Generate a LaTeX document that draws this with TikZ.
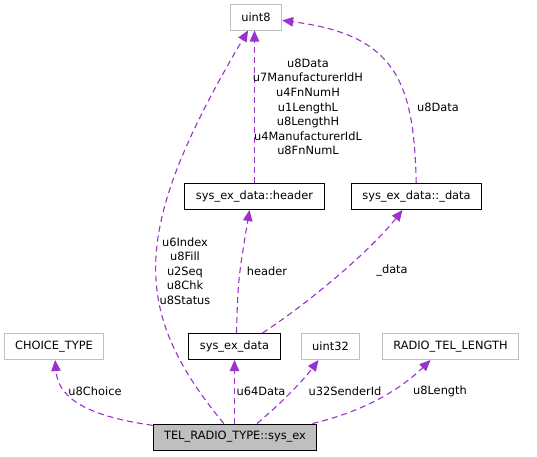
\documentclass[tikz,border=0pt]{standalone}
\usepackage{fontspec}
\setmainfont{DejaVu Sans}
\usetikzlibrary{arrows.meta}

\begin{document}
\begin{tikzpicture}[x=1pt,y=-1pt,font=\fontsize{11.4}{14.6}\selectfont,
	box/.style={draw,line width=1pt,inner xsep=11pt,inner ysep=0pt,minimum height=26pt},
	ext/.style={box,draw=extgray},
	rel/.style={draw=edgepurple,line width=1.1pt,dash pattern=on 6pt off 4pt,
		-{Triangle[length=11pt,width=9.5pt]}},
	lbl/.style={align=center,inner sep=0pt}]
	\definecolor{edgepurple}{HTML}{9A32CD}
	\definecolor{extgray}{HTML}{BFBFBF}
	\useasboundingbox (0,0) rectangle (537,456);

	\node[ext] (uint8) at (256,17) {uint8};
	\node[box] (header) at (254.5,196.5) {sys\_ex\_data::header};
	\node[box] (data) at (416.5,196.5) {sys\_ex\_data::\_data};
	\node[ext] (choice) at (54,346.5) {CHOICE\_TYPE};
	\node[box] (sysdata) at (234.5,346.5) {sys\_ex\_data};
	\node[ext] (uint32) at (330.5,346.5) {uint32};
	\node[ext] (radiolen) at (450.5,346.5) {RADIO\_TEL\_LENGTH};
	\node[box,fill=extgray] (sysex) at (235,437) {TEL\_RADIO\_TYPE::sys\_ex};

	\draw[rel] (sysex) .. controls (80,415) and (58,395) .. (choice)
		node[lbl] at (95,391) {u8Choice};
	\draw[rel] (sysex.north -| sysdata) -- (sysdata)
		node[lbl] at (261,391) {u64Data};
	\draw[rel] ([xshift=22pt]sysex.north) .. controls (285,400) and (305,378) .. ([xshift=-12pt]uint32.south)
		node[lbl] at (345,391) {u32SenderId};
	\draw[rel] ([xshift=-5pt]sysex.north east) .. controls (370,410) and (405,385) .. ([xshift=-20pt]radiolen.south)
		node[lbl] at (440,391) {u8Length};
	\draw[rel] (sysex) .. controls (130,310) and (130,230) .. (uint8)
		node[lbl] at (185,271) {u6Index\\u8Fill\\u2Seq\\u8Chk\\u8Status};

	\draw[rel] ([xshift=2pt]sysdata.north) .. controls (238,280) .. ([xshift=-5pt]header.south)
		node[lbl] at (267,271) {header};
	\draw[rel] ([xshift=28pt]sysdata.north) .. controls (320,295) and (375,245) .. ([xshift=-14pt]data.south)
		node[lbl] at (392,271) {\_data};

	\draw[rel] (header) -- (header |- uint8.south)
		node[lbl] at (308,107) {u8Data\\u7ManufacturerIdH\\u4FnNumH\\u1LengthL\\u8LengthH\\u4ManufacturerIdL\\u8FnNumL};
	\draw[rel] (data) .. controls (414,80) and (395,35) .. (uint8)
		node[lbl] at (438,107) {u8Data};
\end{tikzpicture}
\end{document}
